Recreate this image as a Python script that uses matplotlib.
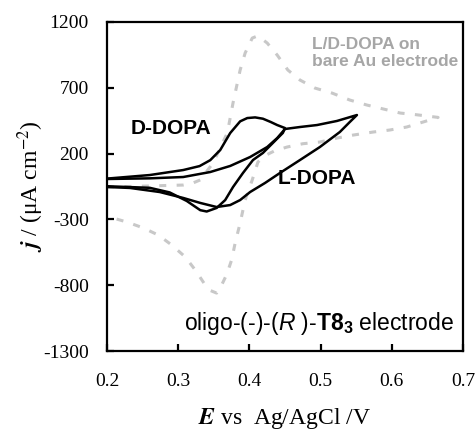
import matplotlib
matplotlib.use("Agg")
import matplotlib.pyplot as plt

plt.rcParams['font.family'] = 'Liberation Serif'
plt.rcParams['mathtext.fontset'] = 'custom'
plt.rcParams['mathtext.rm'] = 'Liberation Sans'
plt.rcParams['mathtext.it'] = 'Liberation Sans:italic'
plt.rcParams['mathtext.bf'] = 'Liberation Sans:bold'

# bare Au electrode, L/D-DOPA (first sweep)
bare_fwd_E = [0.200, 0.260, 0.307, 0.320, 0.331, 0.349, 0.369, 0.377, 0.387, 0.394, 0.404, 0.412,
              0.425, 0.439, 0.454, 0.471, 0.492, 0.516, 0.541, 0.565, 0.588, 0.612, 0.635, 0.665]
bare_fwd_j = [-54, -46, -39, -25, 0, 129, 357, 585, 835, 964, 1078, 1095,
              1040, 949, 835, 759, 698, 660, 607, 569, 539, 508, 495, 475]
bare_rev_E = [0.665, 0.644, 0.621, 0.597, 0.574, 0.546, 0.523, 0.499, 0.475, 0.453, 0.435, 0.422,
              0.412, 0.404, 0.394, 0.387, 0.380, 0.375, 0.368, 0.360, 0.354, 0.345, 0.338, 0.324,
              0.310, 0.291, 0.272, 0.251, 0.228, 0.208, 0.200]
bare_rev_j = [475, 440, 402, 379, 364, 341, 318, 288, 275, 250, 220, 185,
              136, 0, -153, -327, -479, -609, -720, -810, -860, -840, -799, -685,
              -586, -495, -419, -365, -320, -289, -282]

# oligo-(-)-(R)-T8_3 electrode, D-DOPA
d_fwd_E = [0.200, 0.260, 0.307, 0.330, 0.345, 0.359, 0.373, 0.387, 0.397, 0.408, 0.419, 0.430, 0.439, 0.450]
d_fwd_j = [10, 37, 75, 105, 150, 227, 356, 445, 470, 475, 465, 440, 417, 394]
d_rev_E = [0.450, 0.447, 0.433, 0.419, 0.405, 0.391, 0.377, 0.366, 0.354, 0.340, 0.331, 0.312, 0.288, 0.260, 0.200]
d_rev_j = [394, 357, 281, 205, 151, 53, -54, -153, -213, -240, -230, -160, -95, -60, -48]

# oligo-(-)-(R)-T8_3 electrode, L-DOPA
l_fwd_E = [0.200, 0.260, 0.307, 0.345, 0.373, 0.401, 0.425, 0.439, 0.450, 0.471, 0.495, 0.523, 0.551]
l_fwd_j = [7, 12, 22, 60, 106, 174, 250, 318, 387, 402, 417, 448, 493]
l_rev_E = [0.551, 0.541, 0.527, 0.499, 0.471, 0.443, 0.422, 0.401, 0.387, 0.373, 0.354, 0.331, 0.307, 0.274, 0.232, 0.200]
l_rev_j = [493, 440, 364, 250, 151, 53, -23, -92, -153, -191, -206, -175, -137, -92, -61, -54]

x_ticks = [0.2, 0.3, 0.4, 0.5, 0.6, 0.7]
y_ticks = [-1300, -800, -300, 200, 700, 1200]

fig = plt.figure(figsize=(4.76, 4.32), dpi=100)
ax = fig.add_axes([0.2248, 0.1875, 0.7479, 0.7616])

ax.plot(bare_fwd_E + bare_rev_E[1:], bare_fwd_j + bare_rev_j[1:], color='#c8c8c8', lw=2.2,
        dashes=(2.3, 3.4), dash_capstyle='butt')
ax.plot(d_fwd_E + d_rev_E[1:], d_fwd_j + d_rev_j[1:], color='black', lw=1.8)
ax.plot(l_fwd_E + l_rev_E[1:], l_fwd_j + l_rev_j[1:], color='black', lw=1.8)

ax.set_xlim(0.2, 0.7)
ax.set_ylim(-1300, 1200)
ax.set_xticks(x_ticks)
ax.set_yticks(y_ticks)
ax.set_xticklabels(['%.1f' % v for v in x_ticks])
ax.set_yticklabels([str(v) for v in y_ticks])
ax.tick_params(direction='in', length=5, width=1.6, labelsize=14)
ax.tick_params(axis='y', pad=13)
ax.tick_params(axis='x', pad=16)
for sp in ax.spines.values():
    sp.set_linewidth(1.6)

ax.set_xlabel(r'$\mathbfit{E}$ vs  Ag/AgCl /V', fontsize=17, math_fontfamily='stix', va='center')
ax.xaxis.set_label_coords(0.5, -0.205)
ax.set_ylabel(r'$\mathbfit{j}$ / (μA cm$^{-2}$)', fontsize=17, math_fontfamily='stix', va='center')
ax.yaxis.set_label_coords(-0.215, 0.5)

ax.text(0.065, 0.675, 'D-DOPA', transform=ax.transAxes, family='Liberation Sans',
        fontweight='bold', fontsize=15, va='center')
ax.text(0.48, 0.523, 'L-DOPA', transform=ax.transAxes, family='Liberation Sans',
        fontweight='bold', fontsize=15, va='center')
ax.text(0.575, 0.955, 'L/D-DOPA on\nbare Au electrode', transform=ax.transAxes,
        family='Liberation Sans', fontweight='bold', fontsize=12.5, color='#a6a6a6',
        va='top', linespacing=1.2)
ax.text(0.975, 0.085, r'oligo-(-)-($\mathit{R}$ )-$\mathbf{T8_3}$ electrode', transform=ax.transAxes,
        family='Liberation Sans', fontsize=16.5, ha='right', va='center')

fig.savefig('out.png', dpi=100)
